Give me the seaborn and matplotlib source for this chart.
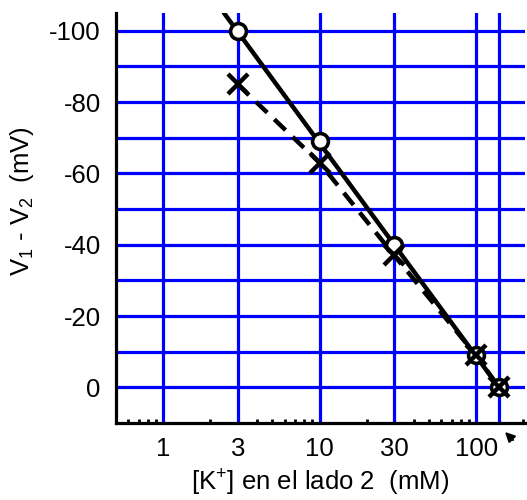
import matplotlib
matplotlib.use("Agg")
import matplotlib.pyplot as plt
from matplotlib.ticker import FixedLocator, LogLocator, NullFormatter
import seaborn as sns
import pandas as pd

# ---- data ----
conc_mM = [3, 10, 30, 100, 140]
v_circles = [-100, -69, -40, -9, 0]
v_crosses = [-85, -63, -37, -9, 0]
fit_x = [2.45, 140]
fit_y = [-105, 0]
x_ticks = [1, 3, 10, 30, 100, 140]
x_tick_labels = ["1", "3", "10", "30", "100", ""]
y_ticks = [-100, -80, -60, -40, -20, 0]
y_tick_labels = ["-100", "-80", "-60", "-40", "-20", "0"]
y_minor = [-90, -70, -50, -30, -10]

sns.set_style("white")
plt.rcParams["font.family"] = ["Liberation Sans", "DejaVu Sans"]
plt.rcParams["axes.unicode_minus"] = False
plt.rcParams["mathtext.fontset"] = "custom"
plt.rcParams["mathtext.rm"] = "Liberation Sans"
plt.rcParams["mathtext.it"] = "Liberation Sans"
plt.rcParams["mathtext.default"] = "rm"
plt.rcParams["text.color"] = "black"
plt.rcParams["axes.labelcolor"] = "black"
plt.rcParams["xtick.color"] = "black"
plt.rcParams["ytick.color"] = "black"

FS = 18.5
blue = "#0000ff"
fig = plt.figure(figsize=(5.27, 5.0), dpi=100)
ax = fig.add_axes([0.220, 0.154, 0.776, 0.820])

df_c = pd.DataFrame({"x": conc_mM, "y": v_circles})
df_x = pd.DataFrame({"x": conc_mM, "y": v_crosses})
df_f = pd.DataFrame({"x": fit_x, "y": fit_y})

# dashed line through crosses
sns.lineplot(data=df_x, x="x", y="y", ax=ax, color="black", lw=3.2,
             dashes=False, linestyle=(0, (3.5, 2.2)), zorder=3, sort=False)
# solid fit line
sns.lineplot(data=df_f, x="x", y="y", ax=ax, color="black", lw=3.2, zorder=4, sort=False)
# open circles
sns.scatterplot(data=df_c, x="x", y="y", ax=ax, marker="o", s=130,
                facecolor="white", edgecolor="black", linewidth=2.6, zorder=5)
# crosses
ax.plot(df_x["x"], df_x["y"], linestyle="none", marker="x", ms=14, mew=3.2,
        color="black", zorder=6)

ax.set_xscale("log")
ax.set_xlim(0.5, 205)
ax.set_ylim(10, -105)

ax.xaxis.set_major_locator(FixedLocator(x_ticks))
ax.set_xticklabels(x_tick_labels)
ax.xaxis.set_minor_locator(LogLocator(base=10, subs=range(2, 10), numticks=20))
ax.xaxis.set_minor_formatter(NullFormatter())
ax.yaxis.set_major_locator(FixedLocator(y_ticks))
ax.set_yticklabels(y_tick_labels)
ax.yaxis.set_minor_locator(FixedLocator(y_minor))

ax.xaxis.grid(True, which="major", color=blue, lw=2.3, zorder=1)
ax.yaxis.grid(True, which="both", color=blue, lw=2.3, zorder=1)
ax.set_axisbelow(True)

ax.tick_params(axis="x", which="major", length=0, pad=10, labelsize=FS, labelcolor="black")
ax.tick_params(axis="x", which="minor", direction="in", length=3, width=2, color="black", bottom=True)
ax.tick_params(axis="y", which="both", length=0, pad=11, labelsize=FS, labelcolor="black")

for s in ["top", "right"]:
    ax.spines[s].set_visible(False)
for s in ["left", "bottom"]:
    ax.spines[s].set_color("black")
    ax.spines[s].set_linewidth(2.3)
    ax.spines[s].set_zorder(7)

ax.set_xlabel(r"[K$^{+}$] en el lado 2  (mM)", fontsize=FS, labelpad=5, color="black")
ax.set_ylabel(r"V$_1$ - V$_2$  (mV)", fontsize=FS, color="black")
ax.yaxis.set_label_coords(-0.195, 0.54)

ax.annotate("", xy=(503, 70), xytext=(515, 58), xycoords="figure pixels",
            textcoords="figure pixels",
            arrowprops=dict(arrowstyle="-|>", color="black", lw=1.5, mutation_scale=14))

fig.savefig("out.png", dpi=100)
